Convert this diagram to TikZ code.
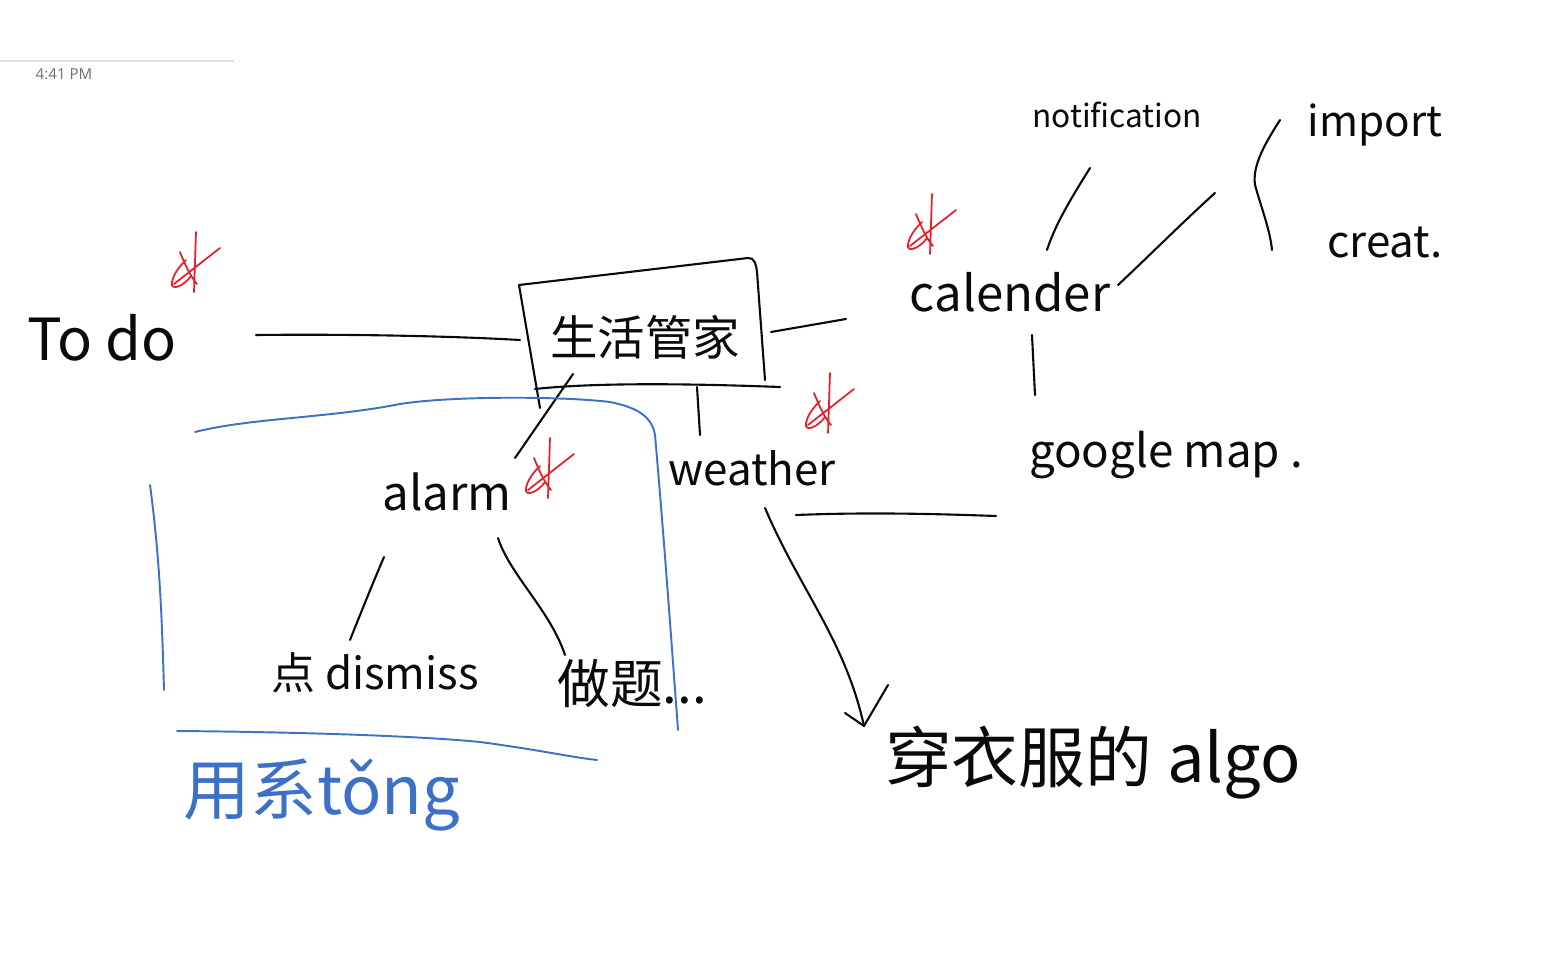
\documentclass[tikz,border=0pt]{standalone}
\usepackage{fontspec}
\setmainfont{Noto Sans CJK SC}
\newfontfamily\uifont{Open Sans}
\definecolor{inkblack}{RGB}{10,10,10}
\definecolor{inkblue}{RGB}{62,112,200}
\definecolor{inkred}{RGB}{232,30,40}
\definecolor{stampgray}{RGB}{110,110,110}
\tikzset{
  ink/.style={draw=inkblack, line width=1.2pt, line cap=round, line join=round},
  blueink/.style={draw=inkblue, line width=1.1pt, line cap=round, line join=round},
  hw/.style={inner sep=0pt, text=inkblack},
  fs/.style={font=\fontsize{#1}{#1}\selectfont},
  redmark/.pic={
    \draw[draw=inkred, line width=1pt, line cap=round, line join=round]
      (2,-30) -- (0,30)
      (-14,-10) .. controls (-8,5) and (-3,15) .. (3,22)
      (-3,14) .. controls (-10,24) and (-24,30) .. (-22,20) .. controls (-20,10) and (-12,2) .. (-8,-2)
      (-20,22) -- (26,-14);
  }
}
\begin{document}
\begin{tikzpicture}[x=0.02cm, y=-0.02cm]
\useasboundingbox (0,0) rectangle (1557,969);
% timestamp
\draw[draw=black!12, line width=0.6pt] (0,61) -- (234,61);
\node[inner sep=0pt, text=stampgray, font=\uifont\fontsize{8.6}{9}\selectfont] (time) at (64,74) {4:41 PM};

% nodes
\node[hw, fs=33] (todo) at (102,338) {To do};
\node[hw, fs=27] (box) at (645,337) {生活管家};
\node[hw, fs=28] (cal) at (1010,292) {calender};
\node[hw, fs=18] (notif) at (1117,115) {notification};
\node[hw, fs=24] (import) at (1375,125) {import};
\node[hw, fs=25] (creat) at (1385,243) {creat.};
\node[hw, fs=26] (gmap) at (1166,455) {google map .};
\node[hw, fs=25] (weather) at (752,468) {weather};
\node[hw, fs=27] (alarm) at (447,492) {alarm};
\node[hw, fs=25] (dismiss) at (375,673) {点 dismiss};
\node[hw, fs=30] (zuoti) at (632,683) {做题...};
\node[hw, fs=38] (algo) at (1093,763) {穿衣服的 algo};
\node[inner sep=0pt, text=inkblue, fs=38] (yong) at (322,795) {用系tǒng};

% box outline
\draw[ink] (540,408) -- (519,285) -- (748,258) to[out=10,in=95] (757,272) -- (765,380);
\draw[ink] (535,389) .. controls (600,382) and (700,384) .. (780,387);

% connector end points
\coordinate (todo-e) at (256,335);
\coordinate (box-w) at (520,340);
\coordinate (box-e) at (771,332);
\coordinate (cal-w) at (846,319);
\coordinate (notif-s) at (1090,168);
\coordinate (cal-n) at (1047,250);
\coordinate (cal-ne) at (1118,285);
\coordinate (brace-w) at (1215,193);
\coordinate (cal-s) at (1032,335);
\coordinate (gmap-n) at (1035,395);
\coordinate (box-s) at (697,387);
\coordinate (weather-n) at (700,435);
\coordinate (box-sw) at (573,374);
\coordinate (alarm-ne) at (515,458);
\coordinate (alarm-sw) at (384,557);
\coordinate (dismiss-n) at (350,640);
\coordinate (alarm-se) at (498,538);
\coordinate (zuoti-n) at (565,655);
\coordinate (weather-e) at (796,515);
\coordinate (gmap-w) at (996,516);
\coordinate (weather-s) at (765,508);
\coordinate (algo-n) at (864,726);

% connectors
\draw[ink] (todo-e) .. controls (350,334) and (450,336) .. (box-w);
\draw[ink] (box-e) -- (cal-w);
\draw[ink] (notif-s) .. controls (1070,200) and (1055,225) .. (cal-n);
\draw[ink] (cal-ne) .. controls (1150,255) and (1185,220) .. (brace-w);
\draw[ink] (cal-s) -- (gmap-n);
\draw[ink] (box-s) -- (weather-n);
\draw[ink] (box-sw) -- (alarm-ne);
\draw[ink] (alarm-sw) .. controls (372,585) and (360,615) .. (dismiss-n);
\draw[ink] (alarm-se) .. controls (510,575) and (550,610) .. (zuoti-n);
\draw[ink] (weather-e) .. controls (870,512) and (940,514) .. (gmap-w);
\draw[ink] (weather-s) .. controls (800,590) and (845,640) .. (algo-n);
\draw[ink] (845,713) -- (algo-n) -- (888,685);

% brace
\draw[ink] (1280,120) .. controls (1266,142) and (1252,165) .. (1255,185)
  .. controls (1262,210) and (1270,230) .. (1272,250);

% red marks
\pic at (194,262) {redmark};
\pic at (930,224) {redmark};
\pic at (828,403) {redmark};
\pic at (548,468) {redmark};

% blue region
\draw[blueink] (195,432) .. controls (250,418) and (330,418) .. (400,404)
  .. controls (450,396) and (560,396) .. (610,402)
  .. controls (640,408) and (652,418) .. (655,435)
  .. controls (665,550) and (672,650) .. (678,730);
\draw[blueink] (150,485) .. controls (160,560) and (162,620) .. (164,690);
\draw[blueink] (177,731) .. controls (300,732) and (420,736) .. (480,742)
  .. controls (540,750) and (570,757) .. (597,760);
\end{tikzpicture}
\end{document}
